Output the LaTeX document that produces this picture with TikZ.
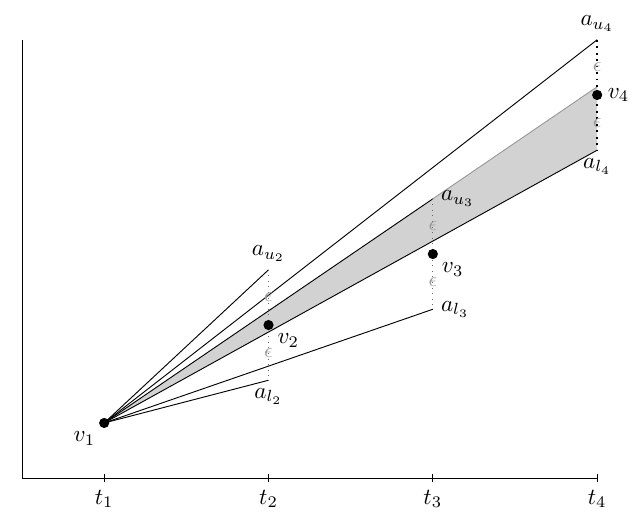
\documentclass[tikz,border=0pt]{standalone}
\usetikzlibrary{calc}

\tikzset{
  dot/.style={circle,fill=black,inner sep=0pt,minimum size=4.4pt},
  vlab/.style={inner sep=2pt},
  eps/.style={text=gray!80,font=\small,inner sep=0pt},
  band/.style={fill=gray!35},
  dotline/.style={dotted,black!60},
}

\begin{document}
\begin{tikzpicture}
\useasboundingbox (-0.335,-0.761) rectangle (9.28,7.275);

% Drawing axes
\coordinate (O) at (0,0);
\coordinate (Y) at (0,6.67);
\coordinate (X) at (8.75,0);
\draw (Y) -- (O) -- (X);

% Ticks and times
\foreach \i/\x in {1/1.25,2/3.75,3/6.25,4/8.75}{
  \coordinate (tt\i) at (\x,0.06);
  \coordinate (tb\i) at (\x,-0.06);
  \draw (tt\i) -- (tb\i) node[below] (tl\i) {$t_\i$};
}

% Points and their bounds
\coordinate (c1) at (1.25,0.84);
\coordinate (c2) at (3.75,2.33);
\coordinate (c3) at (6.25,3.41);
\coordinate (c4) at (8.75,5.83);
\coordinate (au2) at (3.75,3.17);
\coordinate (al2) at (3.75,1.49);
\coordinate (au3) at (6.25,4.25);
\coordinate (al3) at (6.25,2.57);
\coordinate (au4) at (8.75,6.67);
\coordinate (al4) at (8.75,4.99);
\coordinate (top) at ($(c1)!1.5!(au3)$);

% Drawing the band
\fill[band] (c1) -- (top) -- (al4) -- cycle;
\draw[gray!80] (au3) -- (top);

% Lines from v1
\foreach \p in {au2,al2,au3,al3,au4,al4}
  \draw (c1) -- (\p);

% Dotted bounds
\draw[dotline] (au2) -- (al2);
\draw[dotline] (au3) -- (al3);
\draw[dotted,thick] (au4) -- (al4);

% Epsilons
\foreach \i in {2,3,4}{
  \node[eps] (eu\i) at ($(au\i)!0.5!(c\i)$) {$\epsilon$};
  \node[eps] (el\i) at ($(c\i)!0.5!(al\i)$) {$\epsilon$};
}

% Drawing points
\node[dot,label={[vlab]below left:$v_1$}] (v1) at (c1) {};
\node[dot,label={[vlab]below right:$v_2$}] (v2) at (c2) {};
\node[dot,label={[vlab]below right:$v_3$}] (v3) at (c3) {};
\node[dot,label={[vlab]right:$v_4$}] (v4) at (c4) {};

% Bound labels
\node[above] (lu2) at (au2) {$a_{u_2}$};
\node[below] (ll2) at (al2) {$a_{l_2}$};
\node[right] (lu3) at (au3) {$a_{u_3}$};
\node[right] (ll3) at (al3) {$a_{l_3}$};
\node[above] (lu4) at (au4) {$a_{u_4}$};
\node[below] (ll4) at (al4) {$a_{l_4}$};

\end{tikzpicture}
\end{document}
